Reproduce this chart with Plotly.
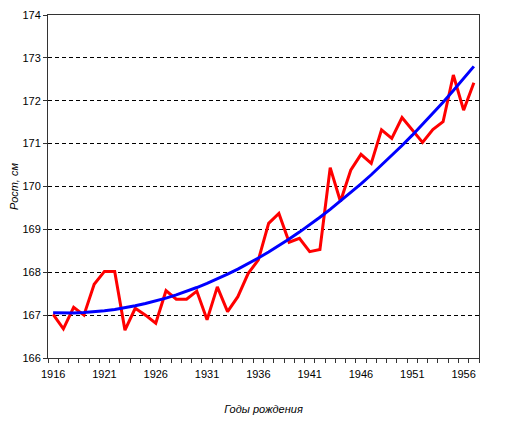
import numpy as np
import plotly.graph_objects as go

years = list(range(1916, 1958))
height = [167.02, 166.68, 167.18, 167.0, 167.72, 168.02, 168.02, 166.65, 167.16, 167.0,
          166.81, 167.57, 167.37, 167.37, 167.56, 166.89, 167.66, 167.08, 167.43, 167.97,
          168.29, 169.14, 169.37, 168.70, 168.79, 168.48, 168.53, 170.44, 169.65, 170.38,
          170.75, 170.54, 171.32, 171.12, 171.61, 171.33, 171.03, 171.33, 171.51, 172.60,
          171.78, 172.42]
year_labels = [1916, 1921, 1926, 1931, 1936, 1941, 1946, 1951, 1956]
y_ticks = list(range(166, 175))

# polynomial trend line (as in the original spreadsheet)
t = np.array(years) - years[0]
coef = np.polyfit(t, height, 2)
trend = np.polyval(coef, t)

fig = go.Figure()
fig.add_trace(go.Scatter(x=years, y=height, mode="lines",
                         line=dict(color="#ff0000", width=3), showlegend=False))
fig.add_trace(go.Scatter(x=years, y=trend, mode="lines",
                         line=dict(color="#0000ff", width=3), showlegend=False))

font = dict(family="Liberation Sans, Arial, sans-serif", size=11, color="#000000")
fig.update_layout(
    width=498, height=417,
    margin=dict(l=40, r=27, t=7, b=67),
    paper_bgcolor="white", plot_bgcolor="white",
    font=font,
    xaxis=dict(range=[years[0] - 0.5, years[-1] + 0.5], automargin=False,
               tickmode="array", tickvals=year_labels,
               ticktext=[str(v) for v in year_labels],
               ticks="", showgrid=False, zeroline=False, ticklabelstandoff=6,
               showline=True, linecolor="#333333", linewidth=1, mirror=True,
               minor=dict(tickmode="linear", tick0=years[0] - 0.5, dtick=1,
                          ticks="outside", ticklen=4, tickcolor="#333333",
                          showgrid=False),
               title=dict(text="<i>Годы рождения</i>", font=dict(size=11), standoff=26)),
    yaxis=dict(range=[166, 174], automargin=False,
               tickmode="array", tickvals=y_ticks,
               ticks="outside", ticklen=4, tickcolor="#333333",
               showgrid=True, gridcolor="#000000", griddash="4px,3px", gridwidth=1,
               zeroline=False,
               showline=True, linecolor="#333333", linewidth=1, mirror=True,
               title=dict(text="<i>Рост, см</i>", font=dict(size=11), standoff=1)),
)
fig.write_html("out.html")
